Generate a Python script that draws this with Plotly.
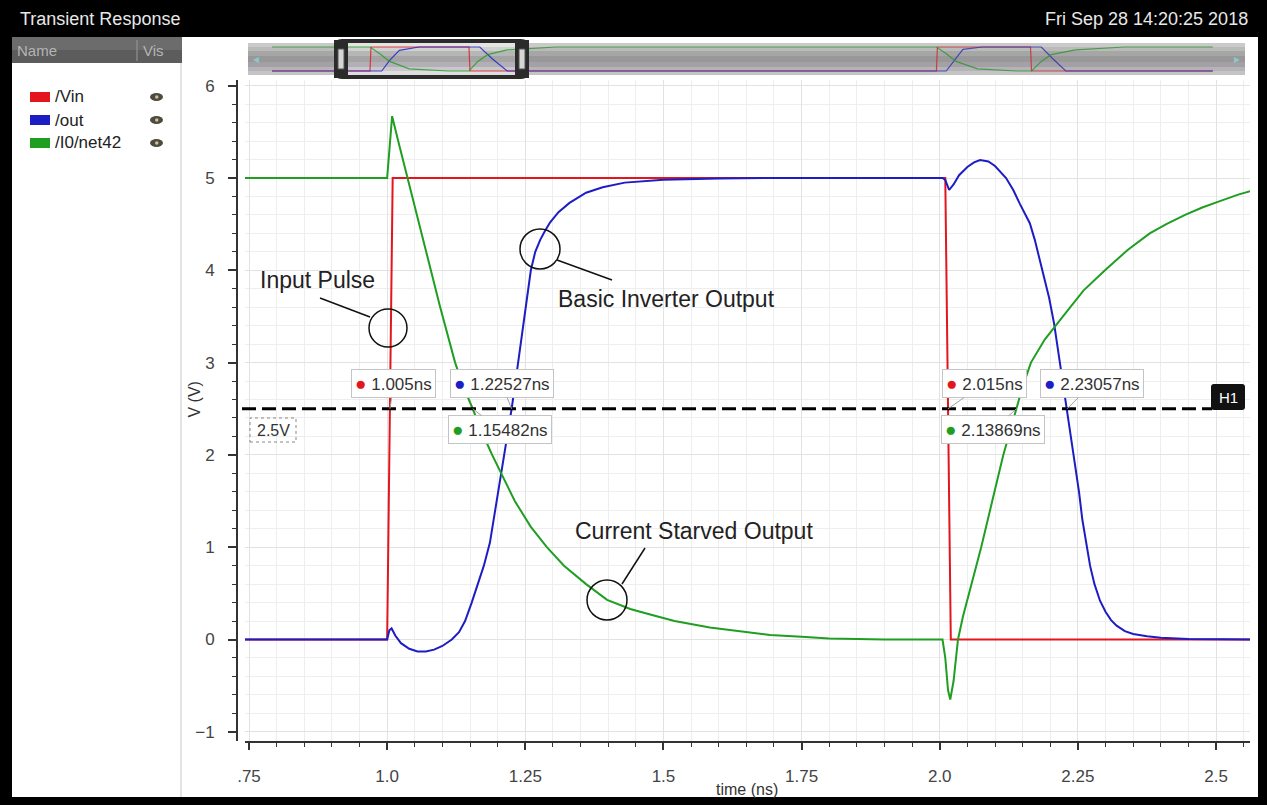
import plotly.graph_objects as go

W, H = 1267, 805
FONT = "Liberation Sans, Arial, sans-serif"
RED, BLUE, GREEN = "#e3161d", "#1d1dc4", "#1f9e22"

# ---------------- data ----------------
t_vin = [0.74, 1.0, 1.01, 2.01, 2.02, 2.57]
v_vin = [0, 0, 5, 5, 0, 0]

t_out = [0.74, 1.0, 1.004, 1.008, 1.015, 1.025, 1.04, 1.055, 1.07, 1.085, 1.1, 1.117,
         1.13, 1.141, 1.153, 1.164, 1.175, 1.186, 1.198, 1.211, 1.2253, 1.237, 1.249,
         1.26, 1.268, 1.277, 1.286, 1.295, 1.31, 1.33, 1.36, 1.39, 1.43, 1.5, 1.6, 1.7,
         2.005, 2.01, 2.017, 2.025, 2.035, 2.05, 2.062, 2.073, 2.088, 2.1, 2.12, 2.133,
         2.145, 2.163, 2.172, 2.181, 2.19, 2.198, 2.207, 2.215, 2.223, 2.2306, 2.238,
         2.245, 2.252, 2.258, 2.265, 2.272, 2.28, 2.29, 2.3, 2.31, 2.32, 2.335, 2.35,
         2.375, 2.4, 2.45, 2.57]
v_out = [0, 0, 0.1, 0.12, 0.04, -0.04, -0.1, -0.13, -0.13, -0.11, -0.07, 0,
         0.08, 0.2, 0.4, 0.6, 0.8, 1.05, 1.5, 2.0, 2.5, 3.0, 3.5,
         4.0, 4.2, 4.33, 4.43, 4.52, 4.63, 4.73, 4.84, 4.9, 4.95, 4.98, 4.995, 5.0,
         5.0, 4.98, 4.87, 4.93, 5.03, 5.12, 5.17, 5.195, 5.18, 5.13, 5.0, 4.87,
         4.72, 4.51, 4.33, 4.11, 3.9, 3.7, 3.42, 3.1, 2.8, 2.5, 2.2,
         1.9, 1.6, 1.3, 1.03, 0.8, 0.6, 0.42, 0.3, 0.21, 0.15, 0.09, 0.06,
         0.035, 0.02, 0.005, 0.0]

t_net = [0.74, 1.0, 1.004, 1.009, 1.02, 1.037, 1.05, 1.07, 1.096, 1.123, 1.138,
         1.15482, 1.172, 1.19, 1.21, 1.231, 1.26, 1.289, 1.32, 1.36, 1.398, 1.44,
         1.476, 1.52, 1.584, 1.64, 1.693, 1.75, 1.80, 1.85, 1.9, 2.005,
         2.01, 2.015, 2.019, 2.025, 2.033, 2.042, 2.053, 2.064, 2.075, 2.095, 2.115,
         2.13869, 2.15, 2.165, 2.19, 2.223, 2.26, 2.299, 2.34, 2.38, 2.41, 2.444,
         2.475, 2.507, 2.54, 2.57]
v_net = [5, 5, 5.3, 5.67, 5.4, 5.0, 4.7, 4.22, 3.6, 3.0, 2.74,
         2.5, 2.24, 2.0, 1.75, 1.5, 1.22, 1.0, 0.8, 0.6, 0.43, 0.33,
         0.27, 0.2, 0.13, 0.09, 0.05, 0.03, 0.01, 0.005, 0, 0,
         -0.2, -0.55, -0.65, -0.45, 0.0, 0.25, 0.5, 0.75, 1.0, 1.5, 2.0,
         2.5, 2.74, 3.0, 3.25, 3.5, 3.78, 4.0, 4.22, 4.4, 4.5, 4.6,
         4.68, 4.75, 4.82, 4.87]

# overview (mini-map) waveforms
mm_t_vin = [0, 1.0, 1.01, 2.01, 2.02, 6.78, 6.79, 7.74, 7.75, 9.6]
mm_v_vin = [0, 0, 5, 5, 0, 0, 5, 5, 0, 0]
mm_t_out = [0, 1.12, 1.2, 1.3, 1.5, 2.12, 2.25, 2.4, 6.88, 6.97, 7.05, 7.25, 7.85, 7.97, 8.1, 9.6]
mm_v_out = [0, 0, 2.2, 4.3, 5, 5, 2.5, 0, 0, 2.5, 4.5, 5, 5, 2.5, 0, 0]
mm_t_net = [0, 1.0, 1.1, 1.2, 1.4, 1.8, 2.01, 2.1, 2.2, 2.4, 2.9, 6.78, 6.88, 6.98,
            7.2, 7.6, 7.75, 7.85, 7.95, 8.2, 8.7, 9.6]
mm_v_net = [5, 5, 3.6, 2.0, 0.45, 0, 0, 2, 3.4, 4.4, 5, 5, 3.6, 2.0,
            0.45, 0, 0, 2, 3.4, 4.4, 5, 5]

x_ticks = [0.75, 1.0, 1.25, 1.5, 1.75, 2.0, 2.25, 2.5]
x_ticktext = [".75", "1.0", "1.25", "1.5", "1.75", "2.0", "2.25", "2.5"]
y_ticks = [-1, 0, 1, 2, 3, 4, 5, 6]

threshold = 2.5
cross_times = [1.005, 1.22527, 1.15482, 2.015, 2.23057, 2.13869]
cross_colors = [RED, BLUE, GREEN, RED, BLUE, GREEN]
cross_offsets = [(4, -25), (-10, -25), (27, 21), (36, -25), (25, -25), (-23, 21)]

legend_names = ["/Vin", "/out", "/I0/net42"]
legend_colors = [RED, BLUE, GREEN]

# ---------------- helpers (pixel -> paper) ----------------
def px(x):
    return x / W


def py(y):
    return 1 - y / H


shapes = []
annots = []


def rect(x0, y0, x1, y1, fill, layer="above", line_color=None, line_width=0, dash=None):
    ln = dict(width=line_width)
    if line_color:
        ln["color"] = line_color
    if dash:
        ln["dash"] = dash
    shapes.append(dict(type="rect", xref="paper", yref="paper", x0=px(x0), x1=px(x1),
                       y0=py(y1), y1=py(y0), fillcolor=fill, line=ln, layer=layer))


def seg(x0, y0, x1, y1, color="#111", width=1.5):
    shapes.append(dict(type="line", xref="paper", yref="paper", x0=px(x0), x1=px(x1),
                       y0=py(y0), y1=py(y1), line=dict(color=color, width=width), layer="above"))


def circ(cx, cy, r, color="#111", width=1.5):
    shapes.append(dict(type="circle", xref="paper", yref="paper", x0=px(cx - r), x1=px(cx + r),
                       y0=py(cy + r), y1=py(cy - r), line=dict(color=color, width=width), layer="above"))


def text(x, y, s, size=16, color="#222", xanchor="center", yanchor="middle", **kw):
    annots.append(dict(x=px(x), y=py(y), xref="paper", yref="paper", text=s, showarrow=False,
                       xanchor=xanchor, yanchor=yanchor, font=dict(size=size, color=color, family=FONT), **kw))


def rrect_path(x0, y0, x1, y1, r):
    rx, ry = r / W, r / H
    X0, X1, Y0, Y1 = px(x0), px(x1), py(y1), py(y0)
    return (f"M {X0+rx},{Y0} L {X1-rx},{Y0} Q {X1},{Y0} {X1},{Y0+ry} L {X1},{Y1-ry} "
            f"Q {X1},{Y1} {X1-rx},{Y1} L {X0+rx},{Y1} Q {X0},{Y1} {X0},{Y1-ry} "
            f"L {X0},{Y0+ry} Q {X0},{Y0} {X0+rx},{Y0} Z")


# ---------------- figure ----------------
fig = go.Figure()
for t, v, c in [(t_vin, v_vin, RED), (t_out, v_out, BLUE), (t_net, v_net, GREEN)]:
    fig.add_trace(go.Scatter(x=t, y=v, mode="lines", line=dict(color=c, width=2),
                             xaxis="x", yaxis="y", hoverinfo="skip"))
for t, v, c in [(mm_t_vin, mm_v_vin, RED), (mm_t_out, mm_v_out, BLUE), (mm_t_net, mm_v_net, GREEN)]:
    fig.add_trace(go.Scatter(x=t, y=v, mode="lines", line=dict(color=c, width=1.2),
                             opacity=0.8, xaxis="x2", yaxis="y2", hoverinfo="skip"))

PXNS = 552.6
XR = [0.75 - 4 / PXNS, 0.75 + 1001 / PXNS]
PXV = 92.3
YR = [-(741 - 639.5) / PXV, (639.5 - 80) / PXV]

# ---- frame / panels ----
rect(0, 0, W, 37, "#000000")
rect(0, 0, 12, H, "#000000")
rect(0, 797, W, H, "#000000")
rect(1258, 0, W, H, "#000000")
rect(12, 37, 182, 50, "#6c6c6c")
rect(12, 50, 182, 63, "#5c5c5c")
seg(137, 40, 137, 61, "#9a9a9a", 1)
seg(181, 63, 181, 797, "#c8c8c8", 1)
text(18, 19, "Transient Response", size=18, color="#e8e8e8", xanchor="left")
text(1250, 19, "Fri Sep 28 14:20:25 2018", size=18, color="#e8e8e8", xanchor="right")
text(15, 50, "Name", size=15, color="#b4b4b4", xanchor="left")
text(141, 50, "Vis", size=15, color="#b4b4b4", xanchor="left")

# legend panel
for i, (nm, c) in enumerate(zip(legend_names, legend_colors)):
    yc = 97 + i * 23
    rect(30, yc - 5, 50, yc + 5, c)
    text(53, yc, nm, size=17, color="#222", xanchor="left")
    shapes.append(dict(type="circle", xref="paper", yref="paper", x0=px(150), x1=px(163),
                       y0=py(yc + 4), y1=py(yc - 4), fillcolor="#4f4b3c",
                       line=dict(width=0), layer="above"))
    shapes.append(dict(type="circle", xref="paper", yref="paper", x0=px(155), x1=px(158.5),
                       y0=py(yc + 1.8), y1=py(yc - 1.8), fillcolor="#c9c1a2",
                       line=dict(width=0), layer="above"))

# ---- mini-map ----
bands = [(43, 47, "#e3e5e3"), (47, 51, "#ced1ce"), (51, 56, "#b6b6b6"), (56, 62, "#a4a4a4"),
         (62, 67, "#b2b0b6"), (67, 71, "#c9c7cd"), (71, 75, "#dddddd")]
for y0, y1, c in bands:
    rect(248, y0, 1245, y1, c, layer="below")
rect(248, 43, 335, 75, "rgba(110,110,110,0.22)")
rect(528, 43, 1245, 75, "rgba(110,110,110,0.22)")
text(256, 59, "◂", size=12, color="#8cc8c8")
text(1237, 59, "▸", size=12, color="#8cc8c8")
shapes.append(dict(type="path", xref="paper", yref="paper", path=rrect_path(336, 41, 527, 77, 6),
                   line=dict(color="#2b2b2b", width=4), layer="above"))
rect(334, 40, 348, 78, "#2b2b2b")
rect(515, 40, 529, 78, "#2b2b2b")
rect(338, 49, 344, 69, "#d6d6d6", line_color="#555", line_width=1)
rect(519, 49, 525, 69, "#d6d6d6", line_color="#555", line_width=1)

# ---- threshold line + labels ----
shapes.append(dict(type="line", xref="paper", yref="y", x0=px(242), x1=px(1212), y0=threshold,
                   y1=threshold, line=dict(color="#000", width=3, dash="14px,6px"), layer="above"))
shapes.append(dict(type="path", xref="paper", yref="paper", path=rrect_path(1211, 384, 1245, 410, 3),
                   fillcolor="#111", line=dict(width=0), layer="above"))
text(1228, 397, "H1", size=15, color="white")
rect(250, 418, 296, 442, "rgba(0,0,0,0)", line_color="#888", line_width=1, dash="dot")
text(273, 430, "2.5V", size=16, color="#333")

for t, c, (ax, ay) in zip(cross_times, cross_colors, cross_offsets):
    annots.append(dict(x=t, y=threshold, xref="x", yref="y",
                       text=f"<span style='color:{c};font-size:19px'>●</span> {t}ns",
                       showarrow=True, arrowhead=0, arrowwidth=1, arrowcolor="#a0a0a0",
                       ax=ax, ay=ay, bgcolor="white", bordercolor="#c4c4c4", borderwidth=1,
                       borderpad=3, font=dict(size=17, color="#333", family=FONT)))

# ---- callouts ----
text(317, 280, "Input Pulse", size=23, color="#222")
seg(320, 298, 370, 317)
circ(388, 328, 19)
text(666, 299, "Basic Inverter Output", size=23, color="#222")
seg(557, 260, 612, 280)
circ(540, 249, 20)
text(694, 531, "Current Starved Output", size=23, color="#222")
seg(645, 548, 622, 584)
circ(607, 600, 20)

# axis titles
text(747, 789, "time (ns)", size=16, color="#333")
annots.append(dict(x=px(183), y=py(400), xref="paper", yref="paper", text="V (V)", showarrow=False,
                   textangle=-90, font=dict(size=16, color="#333", family=FONT)))

fig.update_layout(
    width=W, height=H, autosize=False,
    margin=dict(l=0, r=0, t=0, b=0, autoexpand=False),
    paper_bgcolor="white", plot_bgcolor="rgba(0,0,0,0)",
    showlegend=False, font=dict(family=FONT, color="#333"),
    shapes=shapes, annotations=annots,
    xaxis=dict(domain=[px(245), px(1250)], range=XR, anchor="y", automargin=False,
               showline=True, linecolor="#333", linewidth=2, mirror=False,
               ticks="outside", ticklen=7, tickwidth=1.5, tickcolor="#333",
               tickvals=x_ticks, ticktext=x_ticktext, ticklabelstandoff=12,
               tickfont=dict(size=17, color="#444"),
               showgrid=True, gridcolor="#e2e2e2", gridwidth=1, zeroline=False,
               minor=dict(dtick=0.05, tick0=0.75, ticks="outside", ticklen=4, tickcolor="#333",
                          tickwidth=1, showgrid=True, gridcolor="#eeeeee")),
    yaxis=dict(domain=[py(741), py(80)], range=YR, anchor="free", position=px(237),
               automargin=False,
               showline=True, linecolor="#333", linewidth=2,
               ticks="outside", ticklen=8, tickwidth=1.5, tickcolor="#333",
               tickvals=y_ticks, ticklabelstandoff=10,
               tickfont=dict(size=17, color="#444"),
               showgrid=True, gridcolor="#e2e2e2", gridwidth=1, zeroline=False,
               minor=dict(dtick=0.2, tick0=0, ticks="outside", ticklen=4, tickcolor="#333",
                          tickwidth=1, showgrid=True, gridcolor="#eeeeee")),
    xaxis2=dict(domain=[px(248), px(1245)], range=[(248 - 272) / 98, (1245 - 272) / 98],
                anchor="y2", visible=False, fixedrange=True, automargin=False),
    yaxis2=dict(domain=[py(75), py(44)], range=[-4 / 4.8, 5 + 3 / 4.8], anchor="x2",
                visible=False, fixedrange=True, automargin=False),
)

fig.write_html("out.html")
